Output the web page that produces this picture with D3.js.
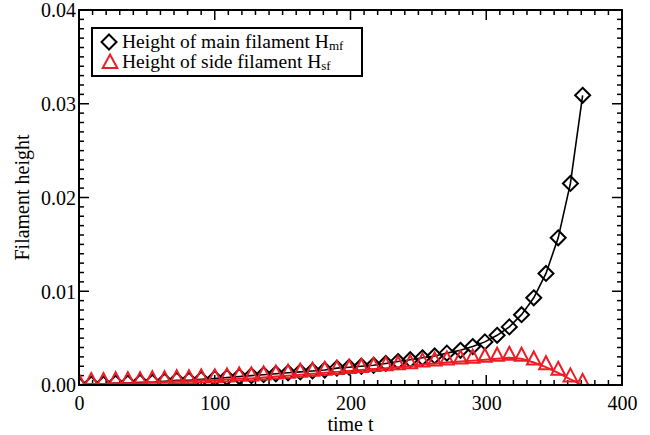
<!DOCTYPE html>
<html>
<head>
<meta charset="utf-8">
<script src="https://cdn.jsdelivr.net/npm/d3@7"></script>
<style>
  body { margin: 0; background: #fff; }
  svg { display: block; }
  text { font-family: "Liberation Serif", "Times New Roman", serif; }
</style>
</head>
<body>
<svg id="chart" width="650" height="435"></svg>
<script>
// time samples
const times = [0, 9, 18, 27, 36, 45, 54, 63, 72, 81, 90, 100, 109, 118, 127, 136, 145, 154, 163, 172,
  181, 190, 199, 208, 217, 226, 235, 244, 253, 262, 271, 281, 290, 299, 308, 317, 326, 335, 344, 353, 362, 371]

// height of main filament H_mf
const mainHeight = [0.0000, 0.0001, 0.0001, 0.0002, 0.0002, 0.0003, 0.0003, 0.0004, 0.0005, 0.0005,
  0.0006, 0.0007, 0.0008, 0.0009, 0.0010, 0.0011, 0.0012, 0.0013, 0.0014, 0.0015,
  0.0016, 0.0018, 0.0019, 0.0020, 0.0021, 0.0023, 0.0025, 0.0027, 0.0029, 0.0031,
  0.0034, 0.0037, 0.0041, 0.0046, 0.0053, 0.0062, 0.0075, 0.0093, 0.0119, 0.0157,
  0.0215, 0.0309]

// height of side filament H_sf
const sideHeight = [0.0000, 0.0001, 0.0001, 0.0002, 0.0002, 0.0002, 0.0003, 0.0003, 0.0004, 0.0004,
  0.0005, 0.0005, 0.0006, 0.0007, 0.0007, 0.0008, 0.0009, 0.0010, 0.0011, 0.0012,
  0.0013, 0.0014, 0.0015, 0.0016, 0.0017, 0.0018, 0.0019, 0.0020, 0.0022, 0.0023,
  0.0024, 0.0025, 0.0026, 0.0027, 0.0028, 0.0029, 0.0028, 0.0024, 0.0019, 0.0013,
  0.0006, 0.0000]

const xTicks = [0, 100, 200, 300, 400]
const yTicks = [0.00, 0.01, 0.02, 0.03, 0.04]
const legendLabels = ["Height of main filament H", "Height of side filament H"]
const legendSubs = ["mf", "sf"]

const mLeft = 79, mRight = 622, mTop = 10, mBottom = 385
const red = "#ee1c25"
const serif = "'Liberation Serif', 'Times New Roman', serif"

const svg = d3.select("#chart")

const xScale = d3.scaleLinear().domain([0, 400]).range([mLeft, mRight])
const yScale = d3.scaleLinear().domain([0, 0.04]).range([mBottom, mTop])

const mainData = times.map((t, i) => ({ t: t, h: mainHeight[i] }))
const sideData = times.map((t, i) => ({ t: t, h: sideHeight[i] }))

svg.append("clipPath").attr("id", "plotClip")
  .append("rect")
  .attr("x", mLeft).attr("y", mTop)
  .attr("width", mRight - mLeft).attr("height", mBottom - mTop)

// axes: ticks pointing inward on all four sides
const xMinor = d3.range(0, 401, 10)
const yMinor = d3.range(0, 41).map(d => d / 1000)

function tickFmt(d) { return d3.format(".2f")(d) }

const xBottom = d3.axisBottom(xScale).tickValues(xTicks).tickSize(0).tickPadding(0)
const gxb = svg.append("g").attr("transform", `translate(0,${mBottom})`).call(xBottom)
  .attr("font-family", serif).attr("font-size", 20)
gxb.select(".domain").remove()
gxb.selectAll("text").attr("dy", null).attr("y", 25).attr("fill", "#000")

const yLeft = d3.axisLeft(yScale).tickValues(yTicks).tickFormat(tickFmt).tickSize(0).tickPadding(0)
const gyl = svg.append("g").attr("transform", `translate(${mLeft},0)`).call(yLeft)
  .attr("font-family", serif).attr("font-size", 20)
gyl.select(".domain").remove()
gyl.selectAll("text").attr("dy", "0.34em").attr("x", -3).attr("fill", "#000")

const tickG = svg.append("g").attr("stroke", "#000").attr("stroke-width", 1.5)
// bottom + top ticks
xMinor.forEach(v => {
  const len = v % 100 === 0 ? 10 : 5
  tickG.append("line").attr("x1", xScale(v)).attr("x2", xScale(v)).attr("y1", mBottom).attr("y2", mBottom - len)
  tickG.append("line").attr("x1", xScale(v)).attr("x2", xScale(v)).attr("y1", mTop).attr("y2", mTop + len)
})
// left + right ticks
yMinor.forEach((v, i) => {
  const len = i % 10 === 0 ? 10 : 5
  tickG.append("line").attr("y1", yScale(v)).attr("y2", yScale(v)).attr("x1", mLeft).attr("x2", mLeft + len)
  tickG.append("line").attr("y1", yScale(v)).attr("y2", yScale(v)).attr("x1", mRight).attr("x2", mRight - len)
})

// data
const plot = svg.append("g").attr("clip-path", "url(#plotClip)")

const line = d3.line().x(d => xScale(d.t)).y(d => yScale(d.h))

const diamond = "M0,-7.5L7.5,0L0,7.5L-7.5,0Z"
const triangle = "M0,-11L6.8,2L-6.8,2Z"

plot.append("path").attr("d", line(mainData))
  .attr("fill", "none").attr("stroke", "#000").attr("stroke-width", 1.6)
plot.selectAll("path.main").data(mainData).enter().append("path")
  .attr("class", "main")
  .attr("d", diamond)
  .attr("transform", d => `translate(${xScale(d.t)},${yScale(d.h)})`)
  .attr("fill", "none").attr("stroke", "#000").attr("stroke-width", 2)

plot.append("path").attr("d", line(sideData))
  .attr("fill", "none").attr("stroke", red).attr("stroke-width", 2)
plot.selectAll("path.side").data(sideData).enter().append("path")
  .attr("class", "side")
  .attr("d", triangle)
  .attr("transform", d => `translate(${xScale(d.t)},${yScale(d.h)})`)
  .attr("fill", "none").attr("stroke", red).attr("stroke-width", 2)

// frame
svg.append("rect").attr("x", mLeft).attr("y", mTop)
  .attr("width", mRight - mLeft).attr("height", mBottom - mTop)
  .attr("fill", "none").attr("stroke", "#000").attr("stroke-width", 2)

// axis titles
svg.append("text").attr("x", (mLeft + mRight) / 2).attr("y", 431)
  .attr("text-anchor", "middle").attr("font-family", serif).style("font-size", "20px").text("time t")
svg.append("text").attr("transform", `translate(29,${(mTop + mBottom) / 2}) rotate(-90)`)
  .attr("text-anchor", "middle").attr("font-family", serif).style("font-size", "20px").text("Filament height")

// legend
const lg = svg.append("g").attr("font-family", serif)
lg.append("rect").attr("x", 92).attr("y", 28).attr("width", 270).attr("height", 48)
  .attr("fill", "#fff").attr("stroke", "#000").attr("stroke-width", 2)
lg.append("path").attr("d", diamond).attr("transform", "translate(109,42)")
  .attr("fill", "none").attr("stroke", "#000").attr("stroke-width", 2)
lg.append("path").attr("d", "M0,-7L7.3,6.5L-7.3,6.5Z").attr("transform", "translate(110,61.5)")
  .attr("fill", "none").attr("stroke", red).attr("stroke-width", 2)
legendLabels.forEach((lab, i) => {
  const t = lg.append("text").attr("x", 122).attr("y", i === 0 ? 48 : 68).style("font-size", "19.5px")
  t.append("tspan").text(lab)
  t.append("tspan").attr("dy", 2).style("font-size", "13px").text(legendSubs[i])
})
</script>
</body>
</html>
